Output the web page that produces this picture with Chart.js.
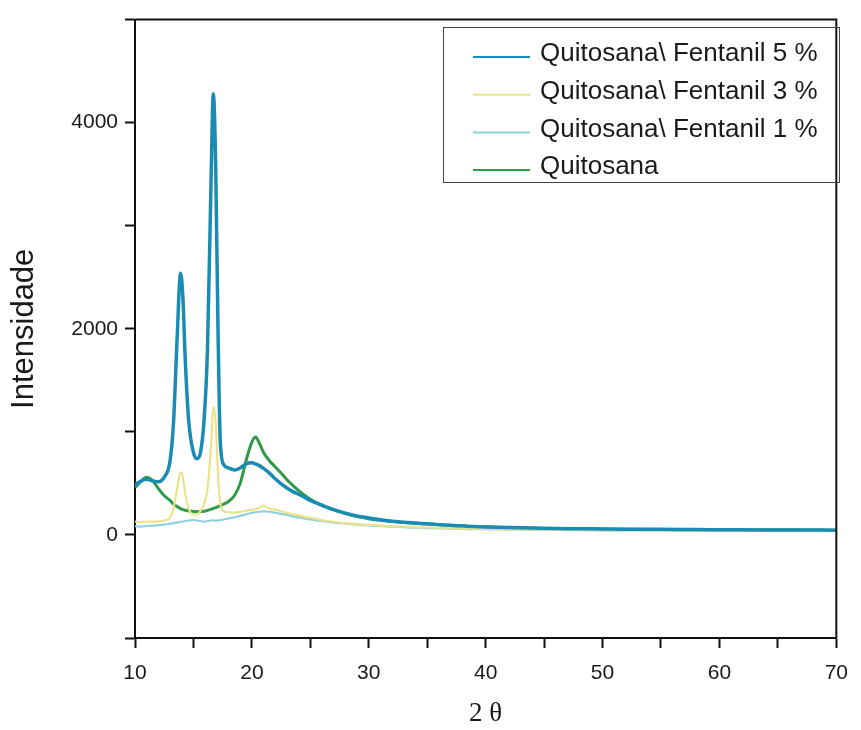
<!DOCTYPE html>
<html>
<head>
<meta charset="utf-8">
<script src="https://cdn.jsdelivr.net/npm/chart.js@4.4.0/dist/chart.umd.min.js"></script>
<style>
  html, body { margin: 0; padding: 0; background: #fff; }
  #wrap { width: 861px; height: 730px; }
</style>
</head>
<body>
<div id="wrap"><canvas id="myChart" width="861" height="730"></canvas></div>
<script>
// 2θ (graus)
const angulos = [10, 10.5, 11, 11.5, 12, 12.5, 13, 13.3, 13.6, 13.9, 14.1, 14.3, 14.6, 15, 15.3, 15.6, 15.9, 16.2, 16.5, 16.7, 16.9, 17.1, 17.3, 17.6, 18, 18.5, 19, 19.5, 20, 20.3, 20.6, 21, 21.5, 22, 22.5, 23, 23.5, 24, 24.5, 25, 25.5, 26, 26.5, 27, 28, 29, 30, 31, 32, 33, 34, 35, 36, 37, 38, 39, 40, 42, 44, 46, 48, 50, 52, 55, 58, 61, 64, 67, 70];

// intensidades
const fentanil5 = [490, 520, 540, 525, 515, 560, 720, 1100, 1900, 2540, 2300, 1700, 1100, 800, 740, 800, 1100, 1800, 3400, 4280, 3600, 2000, 900, 680, 650, 630, 650, 690, 700, 690, 675, 645, 600, 545, 495, 455, 420, 395, 365, 335, 310, 288, 265, 245, 212, 185, 165, 148, 133, 124, 116, 108, 100, 93, 88, 82, 78, 72, 68, 62, 60, 58, 56, 54, 52, 50, 49, 48, 46];
const fentanil3 = [130, 125, 130, 128, 132, 140, 170, 260, 450, 610, 560, 400, 250, 200, 200, 230, 300, 450, 850, 1240, 1100, 600, 300, 230, 220, 215, 225, 235, 245, 250, 260, 285, 255, 245, 230, 215, 200, 190, 175, 165, 155, 145, 135, 128, 115, 105, 98, 90, 85, 80, 76, 72, 68, 65, 62, 60, 58, 55, 52, 50, 48, 47, 46, 45, 44, 43, 42, 42, 41];
const fentanil1 = [85, 80, 88, 90, 95, 100, 110, 115, 120, 128, 130, 135, 140, 145, 140, 135, 130, 135, 140, 142, 138, 140, 145, 150, 160, 170, 185, 200, 215, 220, 225, 228, 225, 215, 205, 195, 180, 170, 160, 150, 142, 135, 128, 120, 110, 100, 92, 85, 80, 75, 70, 67, 64, 61, 58, 56, 54, 52, 50, 48, 46, 45, 44, 43, 42, 41, 40, 40, 39];
const quitosana = [460, 520, 560, 530, 450, 380, 335, 300, 275, 255, 245, 240, 232, 228, 225, 225, 230, 238, 250, 258, 265, 275, 285, 300, 325, 380, 500, 720, 900, 950, 900, 800, 720, 660, 600, 535, 480, 430, 385, 345, 312, 288, 264, 243, 208, 178, 158, 142, 130, 120, 113, 106, 98, 90, 86, 80, 76, 70, 66, 60, 58, 56, 54, 52, 50, 49, 48, 47, 45];

const legendas = ['Quitosana\\ Fentanil 5 %', 'Quitosana\\ Fentanil 3 %', 'Quitosana\\ Fentanil 1 %', 'Quitosana'];
const cores = ['#1a8cb4', '#ebe38a', '#8fd2dd', '#2f9a48'];
const series = [fentanil5, fentanil3, fentanil1, quitosana];
const larguras = [3.5, 2.2, 2.2, 3];

const pontos = (ys) => angulos.map((x, i) => ({ x: x, y: ys[i] }));

// moldura (topo e direita) e legenda dentro do gráfico
const molduraLegenda = {
    id: 'molduraLegenda',
    afterDraw(chart) {
        const { ctx, chartArea } = chart;
        ctx.save();
        ctx.strokeStyle = '#111';
        ctx.lineWidth = 2;
        ctx.beginPath();
        ctx.moveTo(chartArea.left, chartArea.top);
        ctx.lineTo(chartArea.right, chartArea.top);
        ctx.lineTo(chartArea.right, chartArea.bottom);
        ctx.stroke();

        // caixa da legenda
        ctx.lineWidth = 1;
        ctx.strokeStyle = '#444';
        ctx.strokeRect(443.5, 27.5, 396, 155);
        ctx.font = '26px "Liberation Sans", Arial, sans-serif';
        ctx.textBaseline = 'middle';
        ctx.fillStyle = '#1a1a1a';
        chart.data.datasets.forEach((ds, i) => {
            const y = 54 + i * 37.7;
            ctx.strokeStyle = ds.borderColor;
            ctx.lineWidth = 2;
            ctx.beginPath();
            ctx.moveTo(473, y + 3);
            ctx.lineTo(530, y + 3);
            ctx.stroke();
            ctx.fillText(ds.label, 540, y);
        });
        ctx.restore();
    }
};

const ctx = document.getElementById('myChart').getContext('2d');

const myChart = new Chart(ctx, {
    type: 'line',
    data: {
        datasets: series.map((ys, i) => ({
            label: legendas[i],
            data: pontos(ys),
            borderColor: cores[i],
            backgroundColor: cores[i],
            borderWidth: larguras[i],
            pointRadius: 0,
            tension: 0.25,
            cubicInterpolationMode: 'monotone',
            fill: false,
        })),
    },
    options: {
        responsive: false,
        animation: false,
        layout: { padding: { top: 17, right: 16, left: 0, bottom: 0 } },
        plugins: {
            legend: { display: false },
            tooltip: { enabled: false },
        },
        scales: {
            x: {
                type: 'linear',
                min: 10,
                max: 70,
                afterFit: (s) => { s.height = 92; },
                ticks: {
                    stepSize: 5,
                    padding: 13,
                    color: '#1a1a1a',
                    font: { family: '"Liberation Sans", Arial, sans-serif', size: 21 },
                    callback: (v) => (v % 10 === 0 ? v : ''),
                },
                grid: { drawOnChartArea: false, tickLength: 10, color: '#111', tickWidth: 2 },
                border: { color: '#111', width: 2 },
                title: {
                    display: true,
                    text: '2 θ',
                    color: '#1a1a1a',
                    font: { family: '"Liberation Serif", "DejaVu Serif", serif', size: 27, lineHeight: 1.2 },
                    padding: { top: 0, bottom: 0 },
                },
            },
            y: {
                min: -1000,
                max: 5000,
                afterFit: (s) => { s.width = 135; },
                ticks: {
                    stepSize: 1000,
                    padding: 7,
                    color: '#1a1a1a',
                    font: { family: '"Liberation Sans", Arial, sans-serif', size: 21 },
                    callback: (v) => (v % 2000 === 0 ? v : ''),
                },
                grid: { drawOnChartArea: false, tickLength: 10, color: '#111', tickWidth: 2 },
                border: { color: '#111', width: 2 },
                title: {
                    display: true,
                    text: 'Intensidade',
                    color: '#1a1a1a',
                    font: { family: '"Liberation Sans", Arial, sans-serif', size: 31, lineHeight: 1.2 },
                    padding: { top: 6, bottom: 0 },
                },
            },
        },
    },
    plugins: [molduraLegenda],
});
</script>
</body>
</html>
